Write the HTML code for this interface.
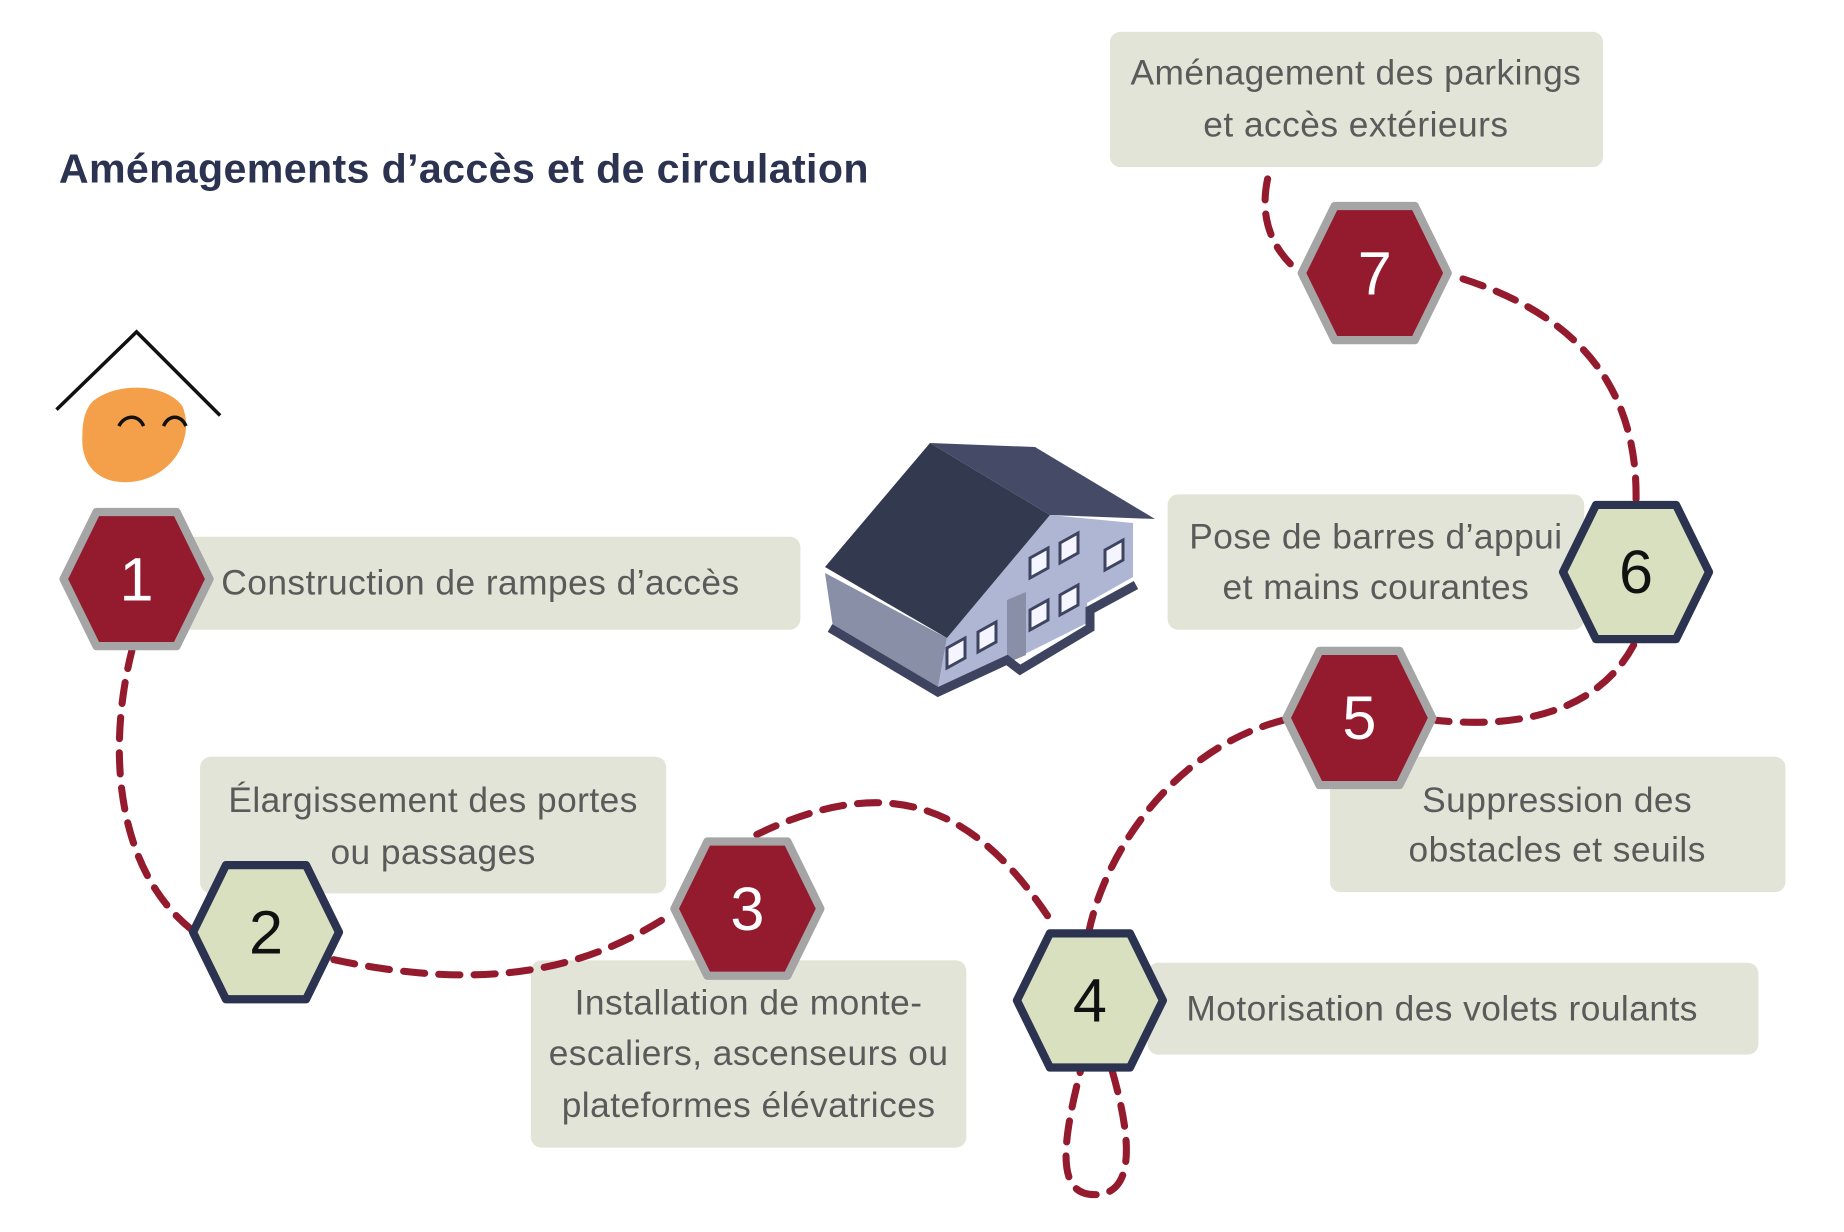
<!DOCTYPE html>
<html><head><meta charset="utf-8"><style>
html,body{margin:0;padding:0;background:#fff;}
svg{display:block;}
text{font-family:"Liberation Sans",sans-serif;}
.bx{fill:#e1e4d6;}
.t{font-size:30px;fill:#5a5a5a;letter-spacing:0.4px;}
.num{font-family:"Liberation Sans Narrow","Liberation Sans",sans-serif;font-size:52px;}
.d{fill:none;stroke:#941a2e;stroke-width:6;stroke-dasharray:18 12;stroke-linecap:round;}
</style></head><body>
<svg width="1844" height="1232" viewBox="0 0 1844 1232" xmlns="http://www.w3.org/2000/svg">
<defs>
<polygon id="hx" points="-62,0 -34,-57 34,-57 62,0 34,57 -34,57"/>
</defs>
<g transform="scale(1.177)">
<text x="50" y="155" style="font-size:35px;font-weight:bold;fill:#2b3350;letter-spacing:0.3px">Aménagements d’accès et de circulation</text>

<rect class="bx" x="943" y="27" width="419" height="115" rx="9"/>
<rect class="bx" x="150" y="456" width="530" height="79" rx="9"/>
<rect class="bx" x="170" y="643" width="396" height="116" rx="9"/>
<rect class="bx" x="451" y="816" width="370" height="159" rx="9"/>
<rect class="bx" x="975" y="818" width="519" height="78" rx="9"/>
<rect class="bx" x="1130" y="643" width="387" height="115" rx="9"/>
<rect class="bx" x="992" y="420" width="354" height="115" rx="9"/>

<path class="d" d="M1077,152 C1070,185 1080,212 1105,232"/>
<path class="d" d="M1243,237 C1330,265 1392,320 1390,426"/>
<path class="d" d="M1388,548 C1360,600 1300,620 1220,612"/>
<path class="d" d="M1090,612 C1000,635 940,720 925,792"/>
<path class="d" d="M890,778 C830,690 760,650 637,712"/>
<path class="d" d="M562,782 C500,820 420,845 282,815"/>
<path class="d" d="M163,790 C100,740 90,640 112,553"/>
<path class="d" d="M945,910 C965,980 960,1015 930,1015 C900,1015 900,980 918,910"/>

<g class="t" text-anchor="middle">
<text x="1152" y="72">Aménagement des parkings</text>
<text x="1152" y="116">et accès extérieurs</text>
<text x="368" y="690">Élargissement des portes</text>
<text x="368" y="734">ou passages</text>
<text x="636" y="862">Installation de monte-</text>
<text x="636" y="905">escaliers, ascenseurs ou</text>
<text x="636" y="949">plateformes élévatrices</text>
<text x="1323" y="690">Suppression des</text>
<text x="1323" y="732">obstacles et seuils</text>
<text x="1169" y="466">Pose de barres d’appui</text>
<text x="1169" y="509">et mains courantes</text>
</g>
<text class="t" x="188" y="505">Construction de rampes d’accès</text>
<text class="t" x="1008" y="867">Motorisation des volets roulants</text>

<g stroke-linejoin="round" stroke-width="7">
<use href="#hx" x="116" y="492" fill="#941a2e" stroke="#a5a5a5"/>
<use href="#hx" x="226" y="792" fill="#d8e0c0" stroke="#2b3350"/>
<use href="#hx" x="635" y="772" fill="#941a2e" stroke="#a5a5a5"/>
<use href="#hx" x="926" y="850" fill="#d8e0c0" stroke="#2b3350"/>
<use href="#hx" x="1155" y="610" fill="#941a2e" stroke="#a5a5a5"/>
<use href="#hx" x="1390" y="486" fill="#d8e0c0" stroke="#2b3350"/>
<use href="#hx" x="1168" y="232" fill="#941a2e" stroke="#a5a5a5"/>
</g>
<g class="num" text-anchor="middle">
<text x="116" y="510" fill="#fff">1</text>
<text x="226" y="810" fill="#111">2</text>
<text x="635" y="790" fill="#fff">3</text>
<text x="926" y="868" fill="#111">4</text>
<text x="1155" y="628" fill="#fff">5</text>
<text x="1390" y="504" fill="#111">6</text>
<text x="1168" y="250" fill="#fff">7</text>
</g>

<path d="M48,348 L116,282 L187,353" fill="none" stroke="#111" stroke-width="3"/>
<path d="M80,340 C100,325 140,325 155,345 C165,370 150,400 120,408 C90,415 68,400 70,370 C70,355 74,345 80,340Z" fill="#f4a04a"/>
<path d="M101,362 C106,352 118,352 122,362 M139,362 C143,352 154,352 158,362" fill="none" stroke="#111" stroke-width="3"/>
</g>

<g>
<polygon points="825,573 833,627 938,688 947,638" fill="#8a8fa8"/>
<polygon points="947,638 1050,515 1133,523 1133,577 1087,603 1087,623 1007,663 938,688" fill="#aeb6d4"/>
<polygon points="1007,600 1007,663 1026,655 1026,592" fill="#8a8fa8"/>
<polyline points="830,628 938,692 1007,660 1020,670 1090,628 1090,610 1136,585" fill="none" stroke="#3e4460" stroke-width="9"/>
<polygon points="930,443 825,567 947,638 1050,515" fill="#333a50"/>
<polygon points="930,443 1035,447 1155,519 1050,515" fill="#454b66"/>
<g fill="#f4f5ff" stroke="#3e4460" stroke-width="3">
<polygon points="947,648 965,638 965,658 947,668"/>
<polygon points="978,632 996,622 996,642 978,652"/>
<polygon points="1030,558 1048,548 1048,568 1030,578"/>
<polygon points="1060,543 1078,533 1078,553 1060,563"/>
<polygon points="1030,610 1048,600 1048,620 1030,630"/>
<polygon points="1060,595 1078,585 1078,605 1060,615"/>
<polygon points="1105,550 1123,540 1123,560 1105,570"/>
</g>
</g>
</svg>
</body></html>
